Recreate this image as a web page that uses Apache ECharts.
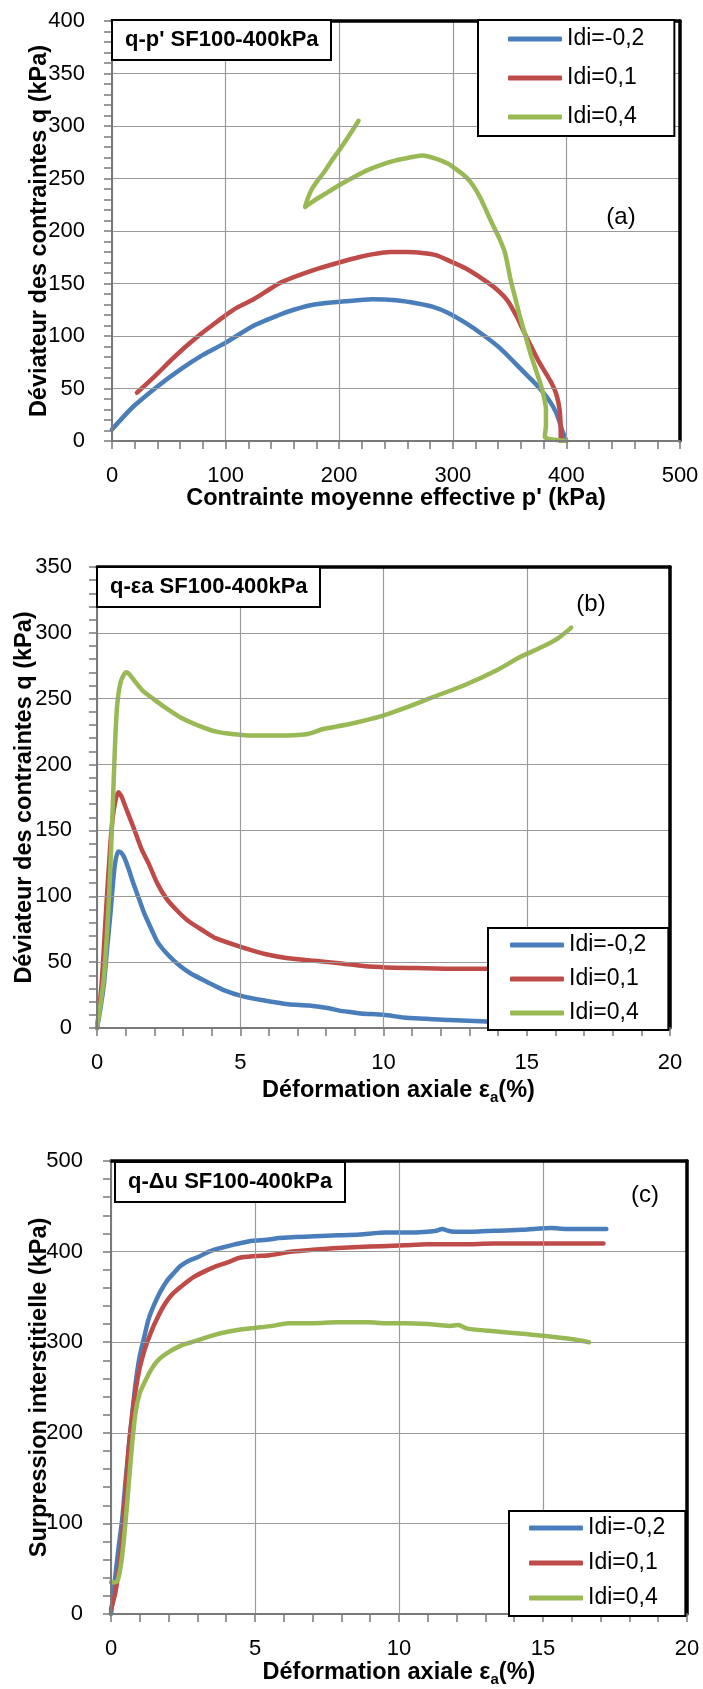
<!DOCTYPE html>
<html>
<head>
<meta charset="utf-8">
<title>SF100-400kPa</title>
<script src="https://cdn.jsdelivr.net/npm/echarts@6/dist/echarts.min.js"></script>
<style>
  html, body { margin: 0; padding: 0; background: #fff; }
  #main { width: 703px; height: 1689px; }
</style>
</head>
<body>
<div id="main"></div>
<script>
// noms des courbes
const seriesNames = ['Idi=-0,2', 'Idi=0,1', 'Idi=0,4'];

// (a) chemin q-p' : [p', q]
const qpIdiM02 = [[400,0],[397,8],[391,27],[384,40],[375,52],[365,63],[355,74],[342,88],[328,100],[312,112],[296,122],[282,128],[269,131],[250,134],[229,135],[205,133],[178,130],[160,125],[147,120],[125,110],[99,93],[80,82],[60,68],[40,52],[20,34],[10,23],[0,11]];
const qpIdi01 = [[395,0],[395,8],[394,30],[391,45],[387,55],[381,66],[375,77],[369,90],[363,103],[356,119],[348,134],[338,145],[328,153],[312,164],[296,172],[285,177],[273,179],[260,180],[245,180],[230,178],[217,175],[200,170],[178,163],[160,156],[147,150],[135,142],[123,134],[110,127],[99,119],[88,110],[76,100],[64,89],[52,77],[38,62],[22,46]];
const qpIdi04 = [[400,0],[392,1],[384,2],[381,4],[382,15],[382,30],[380,43],[377,55],[373,68],[369,81],[364,100],[359,119],[355,136],[351,153],[346,179],[341,193],[336,204],[330,218],[324,232],[318,243],[312,251],[304,258],[296,264],[285,269],[273,272],[262,270],[249,267],[237,263],[225,258],[214,252],[202,245],[190,237],[178,229],[170,223],[172,230],[176,240],[181,248],[186,255],[194,268],[202,280],[210,293],[217,305]];

// (b) q - eps_a : [eps_a %, q]
const qeIdiM02 = [[0,0],[0.1,12],[0.24,33],[0.35,60],[0.47,87],[0.55,108],[0.63,125],[0.74,134],[0.85,133],[0.94,130],[1.1,121],[1.25,111],[1.45,99],[1.65,87],[1.9,75],[2.12,65],[2.5,55],[2.9,47],[3.3,41],[3.84,35],[4.4,29],[5.1,24],[5.8,21],[6.67,18],[7.4,17],[8.1,15],[8.5,13],[8.9,12],[9.2,11],[10,10],[10.7,8],[11.5,7],[12.3,6],[13.6,5],[14.5,4],[15.5,2],[16.3,1],[17,1]];
const qeIdi01 = [[0,0],[0.16,33],[0.31,87],[0.47,141],[0.55,160],[0.63,171],[0.74,179],[0.85,176],[0.94,171],[1.1,162],[1.33,149],[1.55,136],[1.8,125],[2.1,110],[2.43,98],[2.8,89],[3.2,81],[3.7,74],[4.16,68],[5.1,61],[5.9,56],[6.67,53],[7.6,51],[8.55,49],[9.3,47],[10.1,46],[11.2,45.5],[12.3,45],[13.6,45],[15,45],[16,45],[17.1,45]];
const qeIdi04 = [[0,0],[0.11,16],[0.24,38],[0.39,87],[0.47,125],[0.55,168],[0.62,210],[0.7,244],[0.83,263],[1.02,270],[1.15,268],[1.33,263],[1.6,256],[1.96,250],[2.4,243],[2.9,236],[3.5,230],[4.16,225],[4.8,223],[5.4,222],[6.35,222],[7.3,223],[7.9,227],[8.86,231],[9.96,237],[10.75,243],[11.7,251],[12.8,260],[13.9,271],[14.8,282],[15.6,290],[16.1,296],[16.55,304]];

// (c) du - eps_a : [eps_a %, du]
const ueIdiM02 = [[0,0],[0.08,22],[0.16,45],[0.27,75],[0.39,105],[0.5,145],[0.62,185],[0.74,222],[0.86,256],[1.0,285],[1.17,308],[1.3,325],[1.48,340],[1.7,355],[1.95,368],[2.2,377],[2.41,384],[2.7,390],[3.03,394],[3.4,400],[3.81,404],[4.3,408],[4.9,412],[5.4,413],[5.84,415],[6.4,416],[7.08,417],[7.9,418],[8.64,419],[9.57,421],[10.3,421],[10.97,422],[11.3,423],[11.5,425],[11.7,423],[11.9,422],[12.6,422],[13.3,423],[14.3,424],[15.3,426],[15.8,425],[16.5,425],[17.2,425]];
const ueIdi01 = [[0,5],[0.16,25],[0.27,50],[0.39,85],[0.5,135],[0.62,185],[0.74,220],[0.86,248],[1.0,272],[1.17,292],[1.4,312],[1.63,328],[1.85,341],[2.1,352],[2.5,363],[2.88,372],[3.3,379],[3.66,384],[4.05,388],[4.44,393],[5.0,395],[5.5,396],[6.3,400],[7.0,402],[7.86,404],[8.6,405],[9.4,406],[10.2,407],[10.97,408],[12.2,408],[13.3,409],[15,409],[17.1,409]];
const ueIdi04 = [[0,35],[0.12,35],[0.23,37],[0.31,48],[0.39,65],[0.5,100],[0.62,145],[0.74,190],[0.86,224],[1.0,244],[1.17,256],[1.4,270],[1.63,280],[2.0,289],[2.41,296],[2.8,300],[3.19,304],[3.6,308],[3.97,311],[4.5,314],[5.06,316],[5.6,318],[6.15,321],[7.0,321],[7.86,322],[8.95,322],[9.5,321],[10.2,321],[11,320],[11.75,318],[12.06,319],[12.37,315],[13.3,312],[14.4,309],[15,307],[15.6,305],[16.1,303],[16.6,300]];

// textes
const chartTitles = ["q-p' SF100-400kPa", 'q-εa SF100-400kPa', 'q-Δu SF100-400kPa'];
const panelTags = ['(a)', '(b)', '(c)'];
const xNames = ["Contrainte moyenne effective p' (kPa)", 'Déformation axiale ε{sub|a}(%)', 'Déformation axiale ε{sub|a}(%)'];
const yNames = ['Déviateur des contraintes q (kPa)', 'Déviateur des contraintes q (kPa)', 'Surpression interstitielle (kPa)'];

// bornes des axes [min, max, interval]
const xRanges = [[0, 500, 100], [0, 20, 5], [0, 20, 5]];
const yRanges = [[0, 400, 50], [0, 350, 50], [0, 500, 100]];

const FONT = '"Liberation Sans", Arial, sans-serif';
const COLORS = ['#4a7ebb', '#be4b48', '#98b954'];
const AXIS_GRAY = '#7a7a7a';

const grids = [
    { left: 112, top: 21, width: 568, height: 420 },
    { left: 97, top: 567, width: 573, height: 461 },
    { left: 111, top: 1161, width: 576, height: 453 }
];
const legendBoxes = [
    { left: 478, top: 20, itemGap: 15, padding: [7, 30, 7, 30] },
    { left: 488, top: 928, itemGap: 10, padding: [5, 22, 5, 22] },
    { left: 509, top: 1511, itemGap: 11, padding: [5, 20, 6, 20] }
];
const titleBoxes = [{ left: 112, top: 20 }, { left: 97, top: 567 }, { left: 115, top: 1162 }];
const tagPos = [[621, 217], [591, 604], [645, 1195]];
const xNameGap = [46, 49, 45];
const xNamePad = [0, 30, 0];
const yNameGap = [60, 60, 59];
const yLabelMargin = [27, 25, 28];

const data = [
    [qpIdiM02, qpIdi01, qpIdi04],
    [qeIdiM02, qeIdi01, qeIdi04],
    [ueIdiM02, ueIdi01, ueIdi04]
];

function mainAxis(i, range, isX) {
    return {
        type: 'value',
        gridIndex: i,
        position: isX ? 'bottom' : 'left',
        min: range[0], max: range[1], interval: range[2],
        axisLine: { show: true, onZero: false, lineStyle: { color: AXIS_GRAY, width: 2 } },
        axisTick: { show: true, length: 8, lineStyle: { color: AXIS_GRAY, width: 1.5 } },
        minorTick: { show: true, splitNumber: 5, length: 8, lineStyle: { color: AXIS_GRAY, width: 1.5 } },
        splitLine: { show: true, lineStyle: { color: '#9a9a9a', width: 1.2 } },
        axisLabel: {
            fontSize: 22, color: '#000', fontFamily: FONT,
            margin: isX ? 24 : yLabelMargin[i]
        },
        name: isX ? xNames[i] : yNames[i],
        nameLocation: 'middle',
        nameGap: isX ? xNameGap[i] : yNameGap[i],
        nameMoveOverlap: false,
        nameTextStyle: {
            fontSize: 23.5, fontWeight: 'bold', color: '#000', fontFamily: FONT,
            padding: isX ? [0, 0, 0, xNamePad[i]] : 0,
            rich: { sub: { fontSize: 15, fontWeight: 'bold', fontFamily: FONT, padding: [13, 0, 0, 0] } }
        },
        z: 3
    };
}

// cadre noir haut / droite
function borderAxis(i, range, isX) {
    return {
        type: 'value',
        gridIndex: i,
        position: isX ? 'top' : 'right',
        min: range[0], max: range[1],
        axisLine: { show: true, onZero: false, lineStyle: { color: '#000', width: 3.5 } },
        axisTick: { show: false },
        axisLabel: { show: false },
        splitLine: { show: false },
        z: 3
    };
}

const xAxis = [], yAxis = [], series = [], legend = [], title = [], graphic = [];

grids.forEach((g, i) => {
    xAxis.push(mainAxis(i, xRanges[i], true));
    yAxis.push(mainAxis(i, yRanges[i], false));
});
grids.forEach((g, i) => {
    xAxis.push(borderAxis(i, xRanges[i], true));
    yAxis.push(borderAxis(i, yRanges[i], false));
});

data.forEach((set, i) => {
    set.forEach((pts, k) => {
        series.push({
            name: seriesNames[k],
            type: 'line',
            xAxisIndex: i, yAxisIndex: i,
            data: pts,
            showSymbol: false,
            smooth: 0.25,
            color: COLORS[k],
            lineStyle: { width: 4.5, color: COLORS[k], cap: 'round', join: 'round' },
            z: 2
        });
    });

    legend.push(Object.assign({
        orient: 'vertical',
        data: seriesNames,
        selectedMode: false,
        icon: 'roundRect',
        itemWidth: 54, itemHeight: 5,
        backgroundColor: '#fff',
        borderColor: '#000', borderWidth: 2, borderRadius: 0,
        textStyle: { fontSize: 23, color: '#000', fontFamily: FONT, lineHeight: 24 },
        z: 5
    }, legendBoxes[i]));

    title.push(Object.assign({
        text: chartTitles[i],
        padding: [7, 13, 7, 13],
        backgroundColor: '#fff',
        borderColor: '#000', borderWidth: 2,
        textStyle: { fontSize: 22, fontWeight: 'bold', color: '#000', fontFamily: FONT, lineHeight: 26 },
        z: 6
    }, titleBoxes[i]));

    graphic.push({
        type: 'text',
        x: tagPos[i][0], y: tagPos[i][1],
        z: 6,
        style: {
            text: panelTags[i],
            fill: '#000',
            font: '24px ' + FONT,
            align: 'center', verticalAlign: 'middle'
        }
    });
});

const myChart = echarts.init(document.getElementById('main'), null, { renderer: 'canvas' });

myChart.setOption({
    animation: false,
    backgroundColor: '#fff',
    grid: grids.map(g => Object.assign({ outerBoundsMode: 'none', containLabel: false }, g)),
    xAxis: xAxis,
    yAxis: yAxis,
    series: series,
    legend: legend,
    title: title,
    graphic: graphic
});
</script>
</body>
</html>
